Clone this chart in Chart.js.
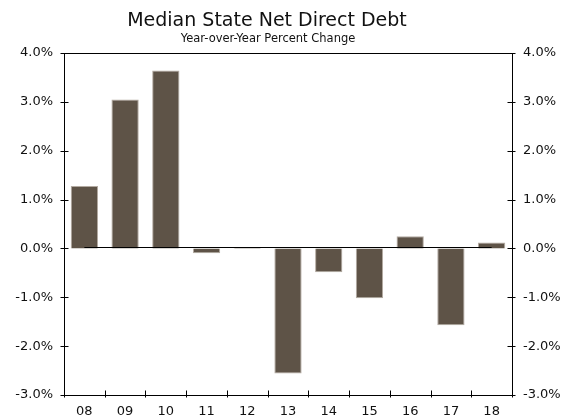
<!DOCTYPE html>
<html>
<head>
<meta charset="utf-8">
<script src="https://cdn.jsdelivr.net/npm/chart.js@4.4.1/dist/chart.umd.min.js"></script>
<style>
  html, body { margin: 0; padding: 0; background: #fff; }
</style>
</head>
<body>
<canvas id="chart" width="561" height="419"></canvas>
<script>
// data
const years = ['08', '09', '10', '11', '12', '13', '14', '15', '16', '17', '18'];
const changePct = [1.28, 3.05, 3.64, -0.10, 0.02, -2.56, -0.49, -1.02, 0.25, -1.57, 0.12];
const yTicks = [-3, -2, -1, 0, 1, 2, 3, 4];
const titleText = 'Median State Net Direct Debt';
const subtitleText = 'Year-over-Year Percent Change';

const FONT = '"DejaVu Sans", Verdana, sans-serif';
const INK = '#111';

// titles, top frame line, crossing tick marks and the zero line
const decorations = {
  id: 'decorations',
  afterDraw(chart) {
    const { ctx, chartArea: a, scales } = chart;
    ctx.save();
    ctx.fillStyle = INK;
    ctx.textAlign = 'center';
    ctx.textBaseline = 'alphabetic';
    ctx.font = '19px ' + FONT;
    ctx.fillText(titleText, 267, 26);
    ctx.font = '11.5px ' + FONT;
    ctx.fillText(subtitleText, 268, 41.5);

    ctx.strokeStyle = '#000';
    ctx.lineWidth = 1;
    ctx.beginPath();
    const top = Math.round(a.top) + 0.5;
    ctx.moveTo(a.left, top);
    ctx.lineTo(a.right, top);

    const left = Math.round(a.left) + 0.5;
    const right = Math.round(a.right) - 0.5;
    yTicks.forEach(v => {
      const y = Math.round(scales.y.getPixelForValue(v)) + 0.5;
      ctx.moveTo(left - 4, y); ctx.lineTo(left + 4, y);
      ctx.moveTo(right - 4, y); ctx.lineTo(right + 4, y);
    });
    const bottom = Math.round(a.bottom) - 0.5;
    for (let i = 0; i <= years.length; i++) {
      const x = Math.round(scales.x.getPixelForValue(i - 0.5)) + 0.5;
      ctx.moveTo(x, bottom - 4); ctx.lineTo(x, bottom + 3);
    }
    // zero line from first to last category centre
    const y0 = Math.round(scales.y.getPixelForValue(0)) - 0.5;
    ctx.moveTo(scales.x.getPixelForValue(0), y0);
    ctx.lineTo(scales.x.getPixelForValue(years.length - 1), y0);
    ctx.stroke();
    ctx.restore();
  }
};

const pct = v => v.toFixed(1) + '%';
const setTicks = scale => { scale.ticks = yTicks.map(v => ({ value: v })); };

new Chart(document.getElementById('chart'), {
  type: 'bar',
  data: {
    labels: years,
    datasets: [{
      data: changePct,
      backgroundColor: '#5e5347',
      borderColor: '#b3aaa1',
      borderWidth: 1,
      categoryPercentage: 1,
      barPercentage: 0.67,
      yAxisID: 'y'
    }]
  },
  options: {
    responsive: false,
    animation: false,
    layout: { padding: { top: 53, left: 0, right: 0, bottom: 0 } },
    plugins: { legend: { display: false }, title: { display: false }, tooltip: { enabled: false } },
    scales: {
      x: {
        offset: true,
        grid: { display: false, drawTicks: false },
        border: { display: true, color: '#000', width: 1 },
        ticks: { color: INK, font: { family: FONT, size: 13 }, padding: 9, maxRotation: 0, autoSkip: false },
        afterFit: s => { s.height = 24; }
      },
      y: {
        position: 'left',
        min: -3, max: 4,
        afterBuildTicks: setTicks,
        grid: { display: false, drawTicks: false },
        border: { display: true, color: '#000', width: 1 },
        ticks: { color: INK, font: { family: FONT, size: 13 }, padding: 11, callback: pct },
        afterFit: s => { s.width = 64; }
      },
      y2: {
        position: 'right',
        min: -3, max: 4,
        afterBuildTicks: setTicks,
        grid: { display: false, drawTicks: false },
        border: { display: true, color: '#000', width: 1 },
        ticks: { color: INK, font: { family: FONT, size: 13 }, padding: 11, callback: pct },
        afterFit: s => { s.width = 49; }
      }
    }
  },
  plugins: [decorations]
});
</script>
</body>
</html>
